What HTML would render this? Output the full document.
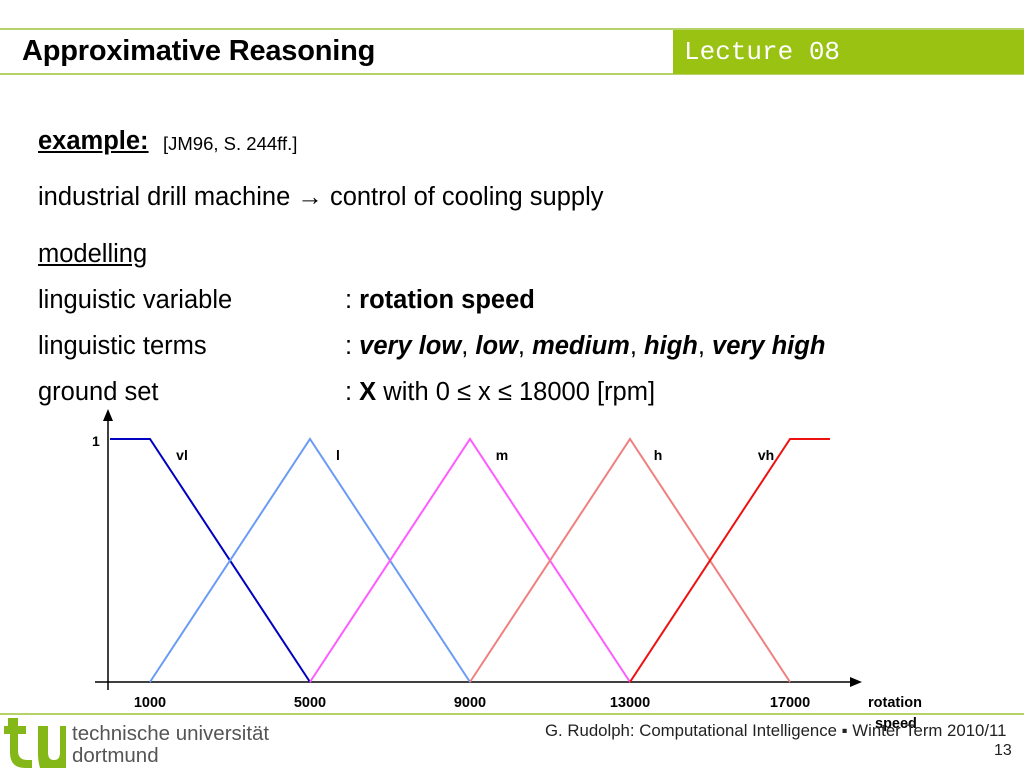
<!DOCTYPE html>
<html><head><meta charset="utf-8"><style>
body{margin:0;width:1024px;height:768px;background:#fff;position:relative;overflow:hidden;font-family:"Liberation Sans",sans-serif;}
.abs{position:absolute;white-space:nowrap}
.t{font-size:25.5px;color:#000}
</style></head><body>
<div class="abs" style="left:0;top:28px;width:1024px;height:2px;background:#b5d36a"></div>
<div class="abs" style="left:0;top:73px;width:1024px;height:2px;background:#b5d36a"></div>
<div class="abs" style="left:673px;top:30px;width:351px;height:44px;background:#99c213"></div>
<div class="abs" style="left:684px;top:37px;font-family:'Liberation Mono',monospace;font-size:26px;color:#fff">Lecture 08</div>
<div class="abs" style="left:22px;top:35px;font-size:29px;font-weight:bold;letter-spacing:-0.2px">Approximative Reasoning</div>

<div class="abs t" style="left:38px;top:127px;font-weight:bold;text-decoration:underline">example:</div>
<div class="abs" style="left:163px;top:133px;font-size:18.5px">[JM96, S. 244ff.]</div>
<div class="abs t" style="left:38px;top:183px">industrial drill machine → control of cooling supply</div>
<div class="abs t" style="left:38px;top:240px;text-decoration:underline">modelling</div>
<div class="abs t" style="left:38px;top:286px">linguistic variable</div>
<div class="abs t" style="left:345px;top:286px">: <b>rotation speed</b></div>
<div class="abs t" style="left:38px;top:332px">linguistic terms</div>
<div class="abs t" style="left:345px;top:332px">: <b><i>very low</i></b>, <b><i>low</i></b>, <b><i>medium</i></b>, <b><i>high</i></b>, <b><i>very high</i></b></div>
<div class="abs t" style="left:38px;top:378px">ground set</div>
<div class="abs t" style="left:345px;top:378px">: <b>X</b> with 0 ≤ x ≤ 18000 [rpm]</div>

<svg class="abs" style="left:0;top:0" width="1024" height="768" id="chart"></svg>

<div class="abs" style="left:0;top:713px;width:1024px;height:2px;background:#b5d36a"></div>
<svg class="abs" style="left:4px;top:718px" width="62" height="50">
<path d="M4 0h10v8h8v8h-8v16c0 8 4 10 10 10h4v8h-6c-12 0-16-6-16-16V16H0V8h4z" fill="#84b819"/>
<path d="M34 8h10v26c0 6 2 8 6 8s6-2 6-8V8h6v42H36c-1-4-2-8-2-14z" fill="#84b819"/>
</svg>
<div class="abs" style="left:72px;top:723px;font-size:20.5px;color:#555;line-height:22px">technische universität<br>dortmund</div>
<div class="abs" style="left:545px;top:721px;font-size:16.8px;color:#222">G. Rudolph: Computational Intelligence ▪ Winter Term 2010/11</div>
<div class="abs" style="left:994px;top:742px;font-size:16px;color:#222">13</div>

<script>
const termNames=["vl","l","m","h","vh"];
const termColors=["#0000c0","#6a9cf5","#ff5cff","#f08080","#ee1111"];
const termX=[[0,1000,5000],[1000,5000,9000],[5000,9000,13000],[9000,13000,17000],[13000,17000,18000]];
const termY=[[1,1,0],[0,1,0],[0,1,0],[0,1,0],[0,1,1]];
const tickValues=[1000,5000,9000,13000,17000];
const tickLabels=["1000","5000","9000","13000","17000"];
const labelX=[1800,5700,9800,13700,16400];
const svg=document.getElementById('chart');
const NS='http://www.w3.org/2000/svg';
const xs=v=>110+v*0.04;
const ys=v=>682-v*243;
function mk(t,a,txt){const e=document.createElementNS(NS,t);for(const k in a)e.setAttribute(k,a[k]);if(txt!==undefined)e.textContent=txt;svg.appendChild(e);return e;}
let e;
e=mk('line',{x1:95,y1:682,x2:852,y2:682,stroke:'#000','stroke-width':1.5});


e=mk('polygon',{points:'862,682 850,677 850,687',fill:'#000'});


e=mk('line',{x1:108,y1:420,x2:108,y2:690,stroke:'#000','stroke-width':1.5});


e=mk('polygon',{points:'108,409 103,421 113,421',fill:'#000'});


e=mk('text',{x:92,y:446,'font-size':14,'font-weight':'bold','font-family':'Liberation Sans'},'1');


termNames.forEach((n,i)=>{
  const pts=termX[i].map((x,j)=>xs(x)+','+ys(termY[i][j])).join(' ');
  const p=mk('polyline',{points:pts,fill:'none',stroke:termColors[i],'stroke-width':2});
  
  
  const t=mk('text',{x:xs(labelX[i]),y:460,'font-size':14,'font-weight':'bold','font-family':'Liberation Sans','text-anchor':'middle'},n);
  
  
});
tickValues.forEach((v,i)=>{
  const t=mk('text',{x:xs(v),y:707,'font-size':14.5,'font-weight':'bold','font-family':'Liberation Sans','text-anchor':'middle'},tickLabels[i]);
  
  
});
e=mk('text',{x:868,y:707,'font-size':14.5,'font-weight':'bold','font-family':'Liberation Sans'},'rotation');


e=mk('text',{x:875,y:728,'font-size':14.5,'font-weight':'bold','font-family':'Liberation Sans'},'speed');


</script>
</body></html>
